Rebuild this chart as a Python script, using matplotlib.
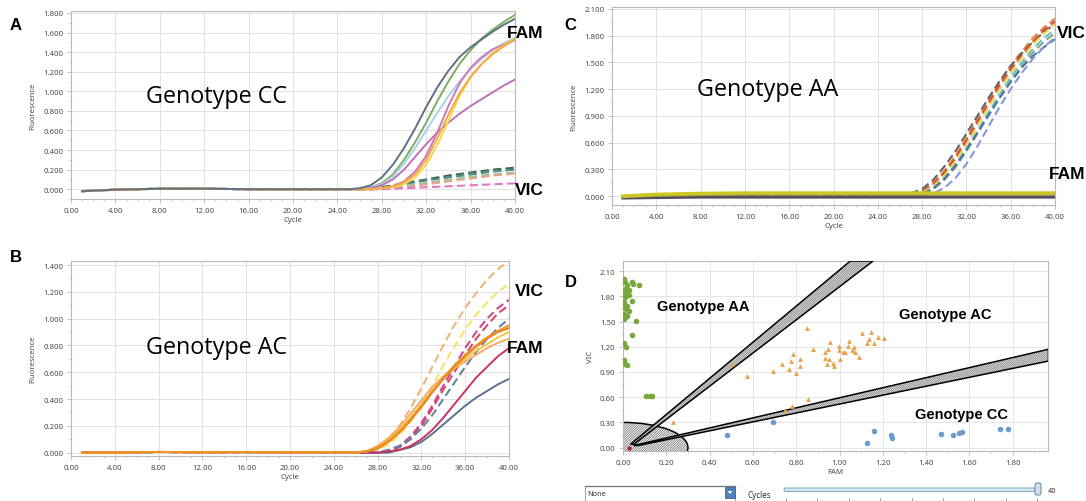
import matplotlib
matplotlib.use("Agg")
import matplotlib.pyplot as plt
import numpy as np
from matplotlib.patches import Polygon, Ellipse, Rectangle, FancyBboxPatch
from matplotlib.ticker import FormatStrFormatter, MultipleLocator, AutoMinorLocator

# ---------------- data ----------------
base_cycles = [1, 4, 8, 12, 16, 20, 24, 25]
rise_cycles = [26, 27, 28, 29, 30, 31, 32, 33, 34, 35, 36, 37, 38, 39, 40]

# panel A : genotype CC
a_base = [-0.02, -0.005, 0.005, 0.005, 0.0, 0.0, 0.0, 0.0]
a_fam = {
    "#7cae62": [0.0, 0.02, 0.06, 0.15, 0.30, 0.48, 0.68, 0.90, 1.10, 1.28, 1.42, 1.54, 1.63, 1.71, 1.78],
    "#a6d4ea": [0.0, 0.02, 0.05, 0.13, 0.26, 0.42, 0.60, 0.78, 0.95, 1.10, 1.23, 1.33, 1.42, 1.49, 1.55],
    "#c070b4": [0.0, 0.01, 0.04, 0.10, 0.20, 0.33, 0.46, 0.58, 0.68, 0.77, 0.85, 0.92, 0.99, 1.06, 1.12],
    "#d277b8": [0.0, 0.0, 0.01, 0.03, 0.08, 0.18, 0.34, 0.58, 0.85, 1.08, 1.24, 1.35, 1.43, 1.48, 1.52],
    "#f5d848": [0.0, 0.0, 0.01, 0.02, 0.05, 0.12, 0.25, 0.45, 0.70, 0.95, 1.14, 1.28, 1.39, 1.47, 1.54],
    "#f0a848": [0.0, 0.0, 0.01, 0.03, 0.07, 0.15, 0.30, 0.52, 0.76, 0.98, 1.15, 1.28, 1.38, 1.46, 1.53],
    "#5f7283": [0.01, 0.04, 0.12, 0.25, 0.42, 0.62, 0.84, 1.04, 1.21, 1.35, 1.45, 1.53, 1.61, 1.68, 1.74],
}
a_vic = {
    "#3c6a52": [0.0, 0.0, 0.02, 0.04, 0.06, 0.08, 0.10, 0.12, 0.14, 0.155, 0.17, 0.185, 0.20, 0.21, 0.22],
    "#4e8c84": [0.0, 0.0, 0.015, 0.03, 0.05, 0.07, 0.09, 0.105, 0.12, 0.135, 0.15, 0.165, 0.18, 0.19, 0.20],
    "#9cc49a": [0.0, 0.0, 0.01, 0.02, 0.035, 0.05, 0.065, 0.08, 0.095, 0.11, 0.125, 0.14, 0.15, 0.16, 0.17],
    "#e4a48a": [0.0, 0.0, 0.0, 0.01, 0.02, 0.035, 0.05, 0.065, 0.08, 0.095, 0.11, 0.125, 0.14, 0.15, 0.16],
    "#e27ac8": [0.0, 0.0, 0.0, 0.005, 0.01, 0.015, 0.02, 0.025, 0.03, 0.035, 0.04, 0.045, 0.05, 0.055, 0.06],
}

# panel B : genotype AC
b_base = [0.0, 0.0, 0.005, 0.003, 0.004, 0.002, 0.003, 0.003]
b_vic = {
    "#f2b478": [0.0, 0.01, 0.04, 0.10, 0.20, 0.33, 0.48, 0.64, 0.80, 0.95, 1.08, 1.19, 1.29, 1.37, 1.43],
    "#f2e468": [0.0, 0.0, 0.02, 0.06, 0.13, 0.23, 0.36, 0.50, 0.65, 0.79, 0.92, 1.03, 1.12, 1.20, 1.26],
    "#c44c94": [0.0, 0.0, 0.0, 0.02, 0.05, 0.12, 0.22, 0.35, 0.50, 0.64, 0.78, 0.90, 1.00, 1.08, 1.14],
    "#d84868": [0.0, 0.0, 0.0, 0.01, 0.04, 0.10, 0.20, 0.33, 0.47, 0.60, 0.73, 0.85, 0.95, 1.04, 1.10],
    "#6486a6": [0.0, 0.0, 0.0, 0.02, 0.05, 0.10, 0.18, 0.28, 0.40, 0.52, 0.64, 0.75, 0.85, 0.93, 1.00],
}
b_fam = {
    "#5a7292": [0.0, 0.0, 0.0, 0.0, 0.02, 0.04, 0.08, 0.14, 0.21, 0.28, 0.35, 0.41, 0.46, 0.51, 0.55],
    "#c83464": [0.0, 0.0, 0.0, 0.01, 0.02, 0.05, 0.10, 0.17, 0.26, 0.36, 0.46, 0.56, 0.64, 0.72, 0.78],
    "#f4ac64": [0.0, 0.01, 0.05, 0.11, 0.19, 0.29, 0.39, 0.49, 0.57, 0.63, 0.68, 0.73, 0.78, 0.82, 0.85],
    "#f4c444": [0.0, 0.01, 0.04, 0.10, 0.17, 0.26, 0.36, 0.46, 0.55, 0.63, 0.70, 0.76, 0.81, 0.86, 0.90],
    "#e27c22": [0.0, 0.01, 0.03, 0.08, 0.15, 0.24, 0.34, 0.45, 0.55, 0.64, 0.72, 0.79, 0.85, 0.90, 0.93],
    "#f29424": [0.0, 0.01, 0.04, 0.09, 0.16, 0.25, 0.35, 0.46, 0.56, 0.65, 0.73, 0.80, 0.86, 0.91, 0.95],
}

# panel C : genotype AA
c_base = [-0.01, 0.005, 0.015, 0.02, 0.02, 0.02, 0.02, 0.02]
c_vic = {
    "#e4843a": [0.0, 0.02, 0.06, 0.15, 0.28, 0.45, 0.65, 0.86, 1.07, 1.27, 1.46, 1.62, 1.77, 1.89, 1.99],
    "#646464": [0.01, 0.03, 0.08, 0.18, 0.33, 0.50, 0.70, 0.90, 1.10, 1.29, 1.46, 1.60, 1.73, 1.84, 1.93],
    "#d24a44": [0.0, 0.01, 0.05, 0.13, 0.26, 0.42, 0.62, 0.83, 1.04, 1.24, 1.42, 1.58, 1.73, 1.86, 1.96],
    "#eed448": [0.0, 0.01, 0.04, 0.11, 0.23, 0.39, 0.58, 0.79, 1.00, 1.20, 1.38, 1.55, 1.70, 1.82, 1.93],
    "#66c4c4": [0.0, 0.01, 0.03, 0.09, 0.20, 0.35, 0.53, 0.73, 0.94, 1.14, 1.33, 1.50, 1.65, 1.77, 1.87],
    "#8aa48a": [0.0, 0.01, 0.03, 0.08, 0.18, 0.32, 0.50, 0.70, 0.90, 1.10, 1.29, 1.46, 1.61, 1.73, 1.83],
    "#5474a4": [0.0, 0.01, 0.02, 0.08, 0.19, 0.34, 0.52, 0.71, 0.91, 1.10, 1.28, 1.44, 1.57, 1.67, 1.76],
    "#8898d8": [0.0, 0.0, 0.01, 0.03, 0.09, 0.20, 0.36, 0.56, 0.78, 1.00, 1.20, 1.38, 1.54, 1.67, 1.78],
}
c_fam = {
    "#5c4c5c": [-0.01] * 15,
    "#98ac44": [0.025] * 15,
    "#cfc622": [0.035] * 15,
}
c_fam_base = {
    "#5c4c5c": [-0.02, -0.015, -0.01, -0.01, -0.01, -0.01, -0.01, -0.01],
    "#98ac44": [-0.005, 0.01, 0.02, 0.025, 0.025, 0.025, 0.025, 0.025],
    "#cfc622": [0.0, 0.02, 0.03, 0.035, 0.035, 0.035, 0.035, 0.035],
}

# panel D : allelic discrimination
aa_fam = [0.006, 0.011, 0.019, 0.043, 0.008, 0.019, 0.027, 0.046, 0.075, 0.005, 0.011, 0.027, 0.040, 0.006,
          0.019, 0.005, 0.014, 0.027, 0.006, 0.011, 0.019, 0.005, 0.062, 0.040, 0.005, 0.014, 0.005, 0.011,
          0.019, 0.107, 0.123, 0.133]
aa_vic = [2.01, 1.97, 1.93, 1.97, 1.89, 1.85, 1.87, 1.95, 1.94, 1.83, 1.79, 1.81, 1.75, 1.73,
          1.69, 1.67, 1.65, 1.63, 1.59, 1.55, 1.57, 1.53, 1.51, 1.34, 1.24, 1.20, 1.04, 1.00,
          0.98, 0.61, 0.62, 0.62]
ac_fam = [0.232, 0.503, 0.575, 0.695, 0.735, 0.767, 0.775, 0.784, 0.797, 0.818, 0.818, 0.850, 0.855, 0.781,
          0.877, 0.933, 0.934, 0.947, 0.957, 0.950, 0.940, 0.972, 0.975, 0.998, 0.998, 1.002, 1.014, 1.026,
          1.040, 1.046, 1.058, 1.066, 1.070, 1.091, 1.102, 1.126, 1.137, 1.145, 1.158, 1.180, 1.206, 0.746]
ac_vic = [0.30, 0.99, 0.85, 0.91, 0.99, 0.93, 1.03, 1.11, 0.89, 0.97, 1.05, 1.42, 0.58, 0.49,
          1.17, 1.07, 1.14, 1.17, 1.26, 1.06, 1.00, 1.01, 0.97, 1.16, 1.21, 1.05, 1.14, 1.14,
          1.21, 1.27, 1.16, 1.20, 1.14, 1.08, 1.36, 1.24, 1.29, 1.38, 1.24, 1.32, 1.30, 0.45]
cc_fam = [0.481, 0.695, 1.125, 1.158, 1.238, 1.241, 1.470, 1.525, 1.550, 1.564, 1.740, 1.778]
cc_vic = [0.15, 0.30, 0.05, 0.20, 0.15, 0.12, 0.16, 0.15, 0.17, 0.19, 0.22, 0.22]
ntc_fam = [0.03]
ntc_vic = [0.0]

# cluster boundaries (FAM, VIC)
upper_band_fam = [0.035, 1.05, 1.155, 0.05]
upper_band_vic = [0.04, 2.22, 2.22, 0.04]
lower_band_fam = [0.05, 1.965, 1.965, 0.07]
lower_band_vic = [0.025, 1.17, 1.03, 0.025]
ntc_radius = 0.30

# ---------------- style ----------------
plt.rcParams["font.family"] = ["Noto Sans", "DejaVu Sans"]
plt.rcParams["hatch.linewidth"] = 0.45
tick_col = "#4a4a4a"
spine_col = "#b8b8b8"
grid_col = "#e2e2e2"

fig = plt.figure(figsize=(10.86, 5.02), dpi=100)
W, H = 1086.0, 502.0


def px_axes(left, top, right, bottom):
    return fig.add_axes([left / W, 1 - bottom / H, (right - left) / W, (bottom - top) / H])


def style_axes(ax, ystep, yfmt, xstep, xfmt):
    for s in ax.spines.values():
        s.set_color(spine_col)
        s.set_linewidth(0.8)
    ax.yaxis.set_major_locator(MultipleLocator(ystep))
    ax.xaxis.set_major_locator(MultipleLocator(xstep))
    ax.yaxis.set_major_formatter(FormatStrFormatter(yfmt))
    ax.xaxis.set_major_formatter(FormatStrFormatter(xfmt))
    ax.xaxis.set_minor_locator(AutoMinorLocator(4))
    ax.yaxis.set_minor_locator(AutoMinorLocator(2))
    ax.tick_params(which="major", labelsize=5.6, colors=spine_col, labelcolor=tick_col, length=3, width=0.6, pad=2.5)
    ax.tick_params(which="minor", colors=spine_col, length=1.5, width=0.5)
    ax.grid(True, which="major", color=grid_col, linewidth=0.7, zorder=0)
    ax.set_axisbelow(True)


def amp_panel(ax, base, fam, vic, ymax, ystep, fam_base=None):
    cyc = base_cycles + rise_cycles
    for col, vals in vic.items():
        ax.plot(cyc, base + vals, color=col, lw=1.5, ls=(0, (4, 2)), zorder=3)
    for col, vals in fam.items():
        b = fam_base[col] if fam_base else base
        ax.plot(cyc, b + vals, color=col, lw=1.4, zorder=4)
    ax.set_xlim(0, 40)
    ax.set_ylim(-0.1, ymax)
    style_axes(ax, ystep, "%.3f", 4, "%.2f")
    ax.set_xlabel("Cycle", fontsize=5.6, color=tick_col, labelpad=2)
    ax.set_ylabel("Fluorescence", fontsize=5.6, color=tick_col, labelpad=5)


def hatched(ax, patch_cls, args, hatch, hatch_col, edge_lw, z, **kw):
    # hatch drawn in grey, outline drawn separately in black
    ax.add_patch(patch_cls(*args, facecolor="white", edgecolor=hatch_col, hatch=hatch, lw=0, zorder=z, **kw))
    ax.add_patch(patch_cls(*args, facecolor="none", edgecolor="black", lw=edge_lw, zorder=z + 0.1, **kw))


# panel A
axA = px_axes(71, 12, 515, 200)
amp_panel(axA, a_base, a_fam, a_vic, 1.82, 0.2)

# panel C
axC = px_axes(612, 8, 1055, 206)
amp_panel(axC, c_base, c_fam, c_vic, 2.12, 0.3, fam_base=c_fam_base)
for line in axC.get_lines()[-3:]:
    line.set_linewidth(2.4)

# panel B
axB = px_axes(71, 262, 509, 457)
amp_panel(axB, b_base, b_fam, b_vic, 1.43, 0.2)
axB.set_ylim(-0.025, 1.43)

# panel D
axD = px_axes(623, 262, 1048, 452)
axD.set_xlim(0, 1.963)
axD.set_ylim(-0.04, 2.22)
style_axes(axD, 0.3, "%.2f", 0.2, "%.2f")
axD.xaxis.set_minor_locator(AutoMinorLocator(2))
axD.grid(True, which="major", color="#e6e6e6", linewidth=0.7)
axD.set_xlabel("FAM", fontsize=5.6, color=tick_col, labelpad=2)
axD.set_ylabel("VIC", fontsize=5.6, color=tick_col, labelpad=4)

hatched(axD, Ellipse, ((0, 0), 2 * ntc_radius, 2 * ntc_radius), "/" * 14, "#555555", 1.1, 2)
hatched(axD, Polygon, (list(zip(upper_band_fam, upper_band_vic)),), "/" * 18, "#666666", 1.1, 3, closed=True)
hatched(axD, Polygon, (list(zip(lower_band_fam, lower_band_vic)),), "\\" * 18, "#666666", 1.1, 3, closed=True)

axD.scatter(aa_fam, aa_vic, s=16, color="#78a83c", zorder=5, linewidths=0)
axD.scatter(ac_fam, ac_vic, s=12, marker="^", color="#e8a048", zorder=5, linewidths=0)
axD.scatter(cc_fam, cc_vic, s=16, color="#6c9ccc", zorder=5, linewidths=0)
axD.scatter(ntc_fam, ntc_vic, s=10, color="#b0203a", zorder=5, linewidths=0)

# ---------------- overlay text and widgets ----------------
ov = fig.add_axes([0, 0, 1, 1], zorder=10)
ov.set_xlim(0, W)
ov.set_ylim(H, 0)
ov.axis("off")
ov.patch.set_alpha(0)

bold = dict(family="Liberation Sans", weight="bold", color="black")
for letter, x, y in [("A", 16, 25), ("C", 570, 25), ("B", 16, 258), ("D", 571, 283)]:
    ov.text(x, y, letter, fontsize=12, ha="center", va="center", **bold)

for txt, x, y in [("FAM", 525, 33), ("VIC", 529, 191), ("VIC", 1071, 33), ("FAM", 1067, 175),
                  ("VIC", 529, 292), ("FAM", 525, 349)]:
    ov.text(x, y, txt, fontsize=12.5, ha="center", va="center", **bold)

genofont = dict(family="Open Sans", color="black", fontsize=16.8, ha="left", va="center")
ov.text(146, 97, "Genotype CC", **genofont)
ov.text(697, 90, "Genotype AA", **genofont)
ov.text(146, 348, "Genotype AC", **genofont)

ov.text(657, 307, "Genotype AA", fontsize=10.5, ha="left", va="center", **bold)
ov.text(899, 315, "Genotype AC", fontsize=10.5, ha="left", va="center", **bold)
ov.text(915, 415, "Genotype CC", fontsize=10.5, ha="left", va="center", **bold)

# dropdown and slider below panel D
ov.add_patch(Rectangle((585, 487), 150, 16, facecolor="white", edgecolor="#a8a8a8", lw=0.8))
ov.plot([585, 735], [487, 487], color="#7a7a7a", lw=0.9)
ov.add_patch(Rectangle((725, 488), 10, 11, facecolor="#4f80b8", edgecolor="#3a6496", lw=0.6))
ov.add_patch(Polygon([(727.5, 492), (732.5, 492), (730, 495)], closed=True, facecolor="white", edgecolor="none"))
ov.text(587, 495, "None", fontsize=5.3, color="#303030", ha="left", va="center")
ov.text(747, 496, "Cycles", fontsize=5.8, color="#303030", ha="left", va="center")
ov.add_patch(FancyBboxPatch((784, 489), 252, 3.5, boxstyle="round,pad=0,rounding_size=1.8",
                            facecolor="#d6eaf2", edgecolor="#86aec4", lw=0.8))
ov.add_patch(FancyBboxPatch((1035, 484), 6, 12, boxstyle="round,pad=0,rounding_size=2",
                            facecolor="#cfe0ea", edgecolor="#6f90a8", lw=0.8))
ov.text(1048, 492, "40", fontsize=5.3, color="#303030", ha="left", va="center")
for xt in np.linspace(786, 1037, 9):
    ov.plot([xt, xt], [499, 502], color="#9a9a9a", lw=0.6)

fig.savefig("out.png", dpi=100)
